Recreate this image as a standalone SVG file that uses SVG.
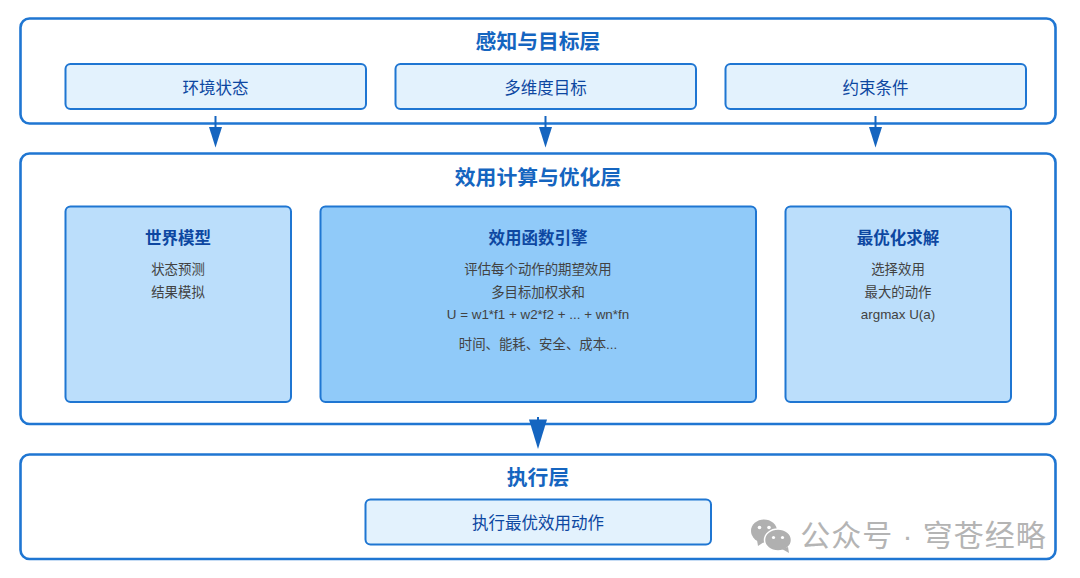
<svg xmlns="http://www.w3.org/2000/svg" width="1080" height="578" viewBox="0 0 1080 578">
<style>
text{font-family:"Liberation Sans","Noto Sans CJK SC",sans-serif;text-anchor:middle}
.layer{fill:#fff;stroke:#1f76d2;stroke-width:2.6}
.item{fill:#e3f2fd;stroke:#1f76d2;stroke-width:2}
.side{fill:#bbdefb;stroke:#1f76d2;stroke-width:2}
.core{fill:#90caf9;stroke:#1f76d2;stroke-width:2}
.h1{font-size:20.800px;font-weight:700;fill:#1565c0}
.h2{font-size:16.500px;font-weight:700;fill:#0d47a1}
.lab{font-size:16.500px;fill:#0d47a1}
.t{font-size:13.400px;fill:#424242}
.conn{stroke:#1565c0;stroke-width:2;fill:none}
.head{fill:#1565c0}
</style>
<rect width="1080" height="578" fill="#fff"/>
<g id="layer-perception">
<rect class="layer" x="20.5" y="18.5" width="1035" height="105" rx="9"/>
<text class="h1" x="538" y="49">感知与目标层</text>
</g>
<g id="layer-utility">
<rect class="layer" x="20.5" y="153.5" width="1035" height="270.500" rx="9"/>
<text class="h1" x="538" y="184.500">效用计算与优化层</text>
</g>
<g id="layer-execution">
<rect class="layer" x="20.500" y="454.5" width="1035" height="104.500" rx="9"/>
<text class="h1" x="538" y="485">执行层</text>
</g>
<g id="node-env">
<rect class="item" x="65.500" y="64" width="300.500" height="45" rx="5"/>
<text class="lab" x="215.500" y="93.500">环境状态</text>
</g>
<g id="node-goals">
<rect class="item" x="395.500" y="64" width="300.500" height="45" rx="5"/>
<text class="lab" x="545.500" y="93.500">多维度目标</text>
</g>
<g id="node-constraints">
<rect class="item" x="725.500" y="64" width="300.500" height="45" rx="5"/>
<text class="lab" x="875.500" y="93.500">约束条件</text>
</g>
<g id="node-world">
<rect class="side" x="65.500" y="206.500" width="225.500" height="195.500" rx="5"/>
<text class="h2" x="178" y="244">世界模型</text>
<text class="t" x="178" y="274">状态预测</text>
<text class="t" x="178" y="296.500">结果模拟</text>
</g>
<g id="node-engine">
<rect class="core" x="320.500" y="206.500" width="435.500" height="195.500" rx="5"/>
<text class="h2" x="538" y="244">效用函数引擎</text>
<text class="t" x="538" y="274">评估每个动作的期望效用</text>
<text class="t" x="538" y="296.500">多目标加权求和</text>
<text class="t" x="538" y="319">U = w1*f1 + w2*f2 + ... + wn*fn</text>
<text class="t" x="538" y="349">时间、能耗、安全、成本...</text>
</g>
<g id="node-optimizer">
<rect class="side" x="785.500" y="206.500" width="225.500" height="195.500" rx="5"/>
<text class="h2" x="898" y="244">最优化求解</text>
<text class="t" x="898" y="274">选择效用</text>
<text class="t" x="898" y="296.500">最大的动作</text>
<text class="t" x="898" y="319">argmax U(a)</text>
</g>
<g id="node-exec">
<rect class="item" x="365.500" y="499.500" width="345.500" height="45" rx="5"/>
<text class="lab" x="538" y="529">执行最优效用动作</text>
</g>
<g id="connectors">
<path class="conn" d="M215.500 116V130"/><path class="head" d="M209 127H222L215.500 147.500Z"/>
<path class="conn" d="M545.500 116V130"/><path class="head" d="M539 127H552L545.500 147.500Z"/>
<path class="conn" d="M875.500 116V130"/><path class="head" d="M869 127H882L875.500 147.500Z"/>
<path class="conn" d="M538 417V425"/><path class="head" d="M529 419.500H547L538 449Z"/>
</g>
<g id="watermark">
<ellipse cx="764" cy="531" rx="13" ry="11.500" fill="#b0b0b0"/>
<path d="M757 540l1 6 6-4z" fill="#b0b0b0"/>
<ellipse cx="778" cy="540" rx="13.500" ry="11" fill="#b0b0b0" stroke="#fff" stroke-width="1.500"/>
<path d="M782 549l7 4-1-6z" fill="#b0b0b0"/>
<g fill="#fff"><circle cx="759.500" cy="527.500" r="1.800"/><circle cx="769" cy="527.500" r="1.800"/><circle cx="773.500" cy="537.500" r="1.600"/><circle cx="782.500" cy="537.500" r="1.600"/></g>
<text x="923.500" y="545.500" font-size="30" fill="#b4b4b4" style="letter-spacing:1px">公众号 · 穹苍经略</text>
</g>
</svg>
